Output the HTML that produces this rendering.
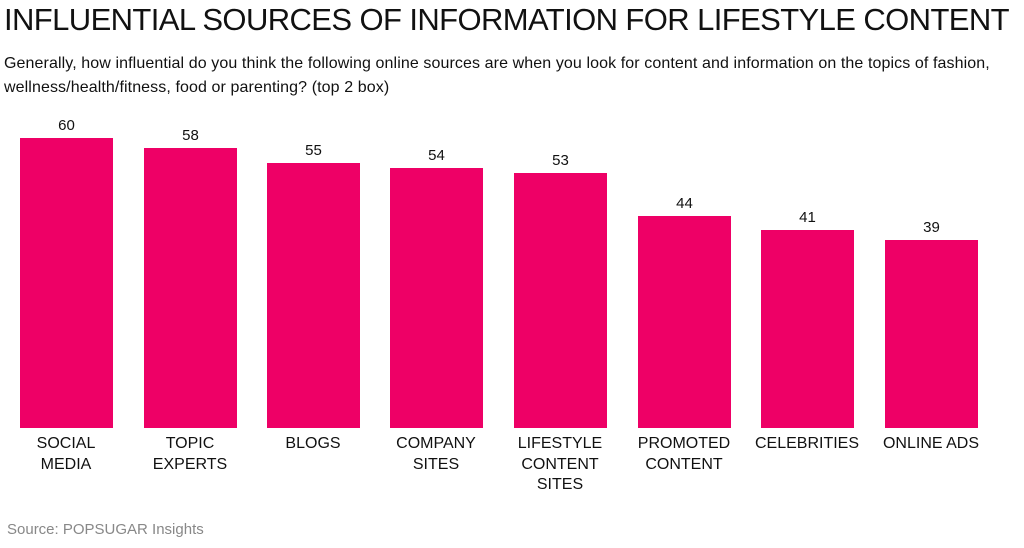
<!DOCTYPE html>
<html><head><style>
body{margin:0;width:1024px;height:548px;background:#fff;font-family:"Liberation Sans",sans-serif;position:relative;overflow:hidden;color:#111}
.t{position:absolute;left:4px;top:2px;font-size:31px;letter-spacing:-0.6px;white-space:nowrap}
.s{position:absolute;left:4px;top:52px;font-size:16px;line-height:24px;width:1010px;letter-spacing:0.1px}
.b{position:absolute;width:93px;background:#ee0066;bottom:120px}
.v{position:absolute;width:93px;text-align:center;font-size:15px}
.l{position:absolute;width:124px;text-align:center;font-size:16px;line-height:20.5px;top:434px}
.src{position:absolute;left:7px;top:521px;font-size:15px;color:#888}
</style></head><body>
<div class="t">INFLUENTIAL SOURCES OF INFORMATION FOR LIFESTYLE CONTENT</div>
<div class="s">Generally, how influential do you think the following online sources are when you look for content and information on the topics of fashion, wellness/health/fitness, food or parenting? (top 2 box)</div>

<div class="b" style="left:20px;top:138px"></div><div class="v" style="left:20px;top:117px">60</div>
<div class="b" style="left:144px;top:148px"></div><div class="v" style="left:144px;top:127px">58</div>
<div class="b" style="left:267px;top:163px"></div><div class="v" style="left:267px;top:142px">55</div>
<div class="b" style="left:390px;top:168px"></div><div class="v" style="left:390px;top:147px">54</div>
<div class="b" style="left:514px;top:173px"></div><div class="v" style="left:514px;top:152px">53</div>
<div class="b" style="left:638px;top:216px"></div><div class="v" style="left:638px;top:195px">44</div>
<div class="b" style="left:761px;top:230px"></div><div class="v" style="left:761px;top:209px">41</div>
<div class="b" style="left:885px;top:240px"></div><div class="v" style="left:885px;top:219px">39</div>

<div class="l" style="left:4px">SOCIAL<br>MEDIA</div>
<div class="l" style="left:128px">TOPIC<br>EXPERTS</div>
<div class="l" style="left:251px">BLOGS</div>
<div class="l" style="left:374px">COMPANY<br>SITES</div>
<div class="l" style="left:498px">LIFESTYLE<br>CONTENT<br>SITES</div>
<div class="l" style="left:622px">PROMOTED<br>CONTENT</div>
<div class="l" style="left:745px">CELEBRITIES</div>
<div class="l" style="left:869px">ONLINE ADS</div>

<div class="src">Source: POPSUGAR Insights</div>
</body></html>
